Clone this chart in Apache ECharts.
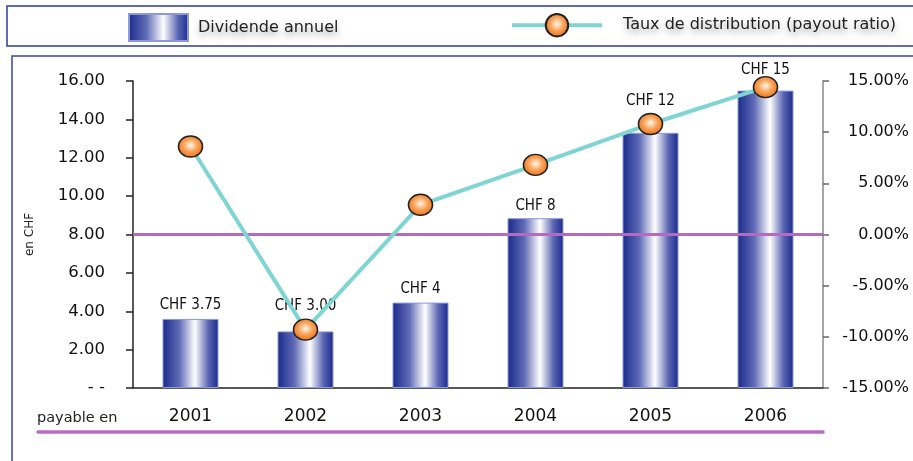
<!DOCTYPE html>
<html>
<head>
<meta charset="utf-8">
<script src="https://cdn.jsdelivr.net/npm/echarts@6/dist/echarts.min.js"></script>
<style>
  html, body {margin: 0; padding: 0; background: #fff;}
  #chart {width: 913px; height: 461px;}
</style>
</head>
<body>
<div id="chart"></div>
<script>
// valeurs
var years = ['2001', '2002', '2003', '2004', '2005', '2006']
var dividende = [3.6, 2.95, 4.45, 8.85, 13.3, 15.5]
var dividendeLabels = ['CHF 3.75', 'CHF 3.00', 'CHF 4', 'CHF 8', 'CHF 12', 'CHF 15']
var payout = [8.6, -9.3, 2.9, 6.8, 10.8, 14.4]

// écart étiquette / barre (les étiquettes évitent les pastilles)
var labelDistance = [6, 18, 6, 5, 24, 13]

var barGradient = new echarts.graphic.LinearGradient(0, 0, 1, 0, [
  {offset: 0, color: '#1a2a8c'},
  {offset: 0.3, color: '#5f6bb5'},
  {offset: 0.58, color: '#ffffff'},
  {offset: 0.82, color: '#5a66b2'},
  {offset: 1, color: '#1a2a8c'}
])
var dotGradient = new echarts.graphic.RadialGradient(0.5, 0.45, 0.6, [
  {offset: 0, color: '#fff8ee'},
  {offset: 0.45, color: '#f9a45a'},
  {offset: 1, color: '#e8650f'}
])
var legendText = {
  fontFamily: 'DejaVu Sans',
  fontSize: 16,
  color: '#222',
  textShadowColor: 'rgba(0,0,0,0.35)',
  textShadowBlur: 6,
  textShadowOffsetY: 4
}

var option = {
  backgroundColor: '#fff',
  animation: false,
  textStyle: {fontFamily: 'DejaVu Sans'},
  grid: {left: 133, right: 90, top: 81, bottom: 73},
  legend: [{
    data: ['Dividende annuel'],
    left: 128,
    top: 13,
    padding: 0,
    itemWidth: 59,
    itemHeight: 27,
    icon: 'rect',
    textStyle: Object.assign({padding: [0, 0, 0, 5]}, legendText)
  }, {
    data: ['Taux de distribution (payout ratio)'],
    left: 510,
    top: 13,
    padding: 0,
    itemWidth: 90,
    itemHeight: 28,
    lineStyle: {width: 4},
    textStyle: Object.assign({padding: [0, 0, 0, 16]}, legendText)
  }],
  graphic: [{
    type: 'rect',
    z: -10,
    shape: {x: 7, y: 6, width: 930, height: 40},
    style: {fill: 'transparent', stroke: '#2c3c9c', lineWidth: 1.5}
  }, {
    type: 'rect',
    z: -10,
    shape: {x: 12, y: 56, width: 930, height: 430},
    style: {fill: 'transparent', stroke: '#3444a4', lineWidth: 1.5}
  }, {
    type: 'line',
    shape: {x1: 38, y1: 432, x2: 823, y2: 432},
    style: {stroke: '#b86cc4', lineWidth: 3.5, lineCap: 'round'}
  }, {
    type: 'text',
    left: 37,
    top: 411,
    style: {text: 'payable en', fontFamily: 'DejaVu Sans', fontSize: 14.5, fill: '#222'}
  }],
  xAxis: {
    type: 'category',
    data: years,
    axisLine: {lineStyle: {color: '#222', width: 1.5}},
    axisTick: {length: 6, lineStyle: {color: '#222', width: 1.5}},
    axisLabel: {margin: 20, fontSize: 17, color: '#111'}
  },
  yAxis: [{
    type: 'value',
    min: 0,
    max: 16,
    interval: 2,
    name: 'en CHF',
    nameLocation: 'middle',
    nameRotate: 90,
    nameGap: 97,
    nameTextStyle: {fontSize: 12, color: '#222'},
    axisLine: {show: true, lineStyle: {color: '#222', width: 1.5}},
    axisTick: {show: true, length: 7, lineStyle: {color: '#222', width: 1.5}},
    splitLine: {show: false},
    axisLabel: {
      margin: 28,
      fontSize: 16.5,
      color: '#111',
      formatter: function (v) { return v === 0 ? '- -' : v.toFixed(2) }
    }
  }, {
    type: 'value',
    min: -15,
    max: 15,
    interval: 5,
    position: 'right',
    axisLine: {show: true, lineStyle: {color: '#888', width: 1.5}},
    axisTick: {show: true, length: 6, lineStyle: {color: '#666', width: 1.5}},
    splitLine: {show: false},
    axisLabel: {
      margin: 86,
      align: 'right',
      fontSize: 16,
      color: '#111',
      formatter: function (v) { return v.toFixed(2) + '%' }
    }
  }],
  series: [{
    name: 'Dividende annuel',
    type: 'bar',
    data: dividende.map(function (v, i) {
      return {value: v, label: {distance: labelDistance[i]}}
    }),
    barWidth: 56,
    itemStyle: {color: barGradient, borderColor: '#8c98d8', borderWidth: 1},
    label: {
      show: true,
      position: 'top',
      fontFamily: "'Liberation Sans Narrow', 'DejaVu Sans Condensed', sans-serif",
      fontSize: 15,
      color: '#111',
      formatter: function (p) { return dividendeLabels[p.dataIndex] }
    },
    markLine: {
      silent: true,
      symbol: 'none',
      label: {show: false},
      lineStyle: {color: '#b46ac0', width: 3, type: 'solid'},
      data: [{yAxis: 8}]
    }
  }, {
    name: 'Taux de distribution (payout ratio)',
    type: 'line',
    yAxisIndex: 1,
    data: payout,
    symbol: 'circle',
    symbolSize: [24, 21],
    lineStyle: {color: '#7fd4d4', width: 4},
    itemStyle: {color: dotGradient, borderColor: '#222', borderWidth: 1.5},
    z: 5
  }]
}

var chart = echarts.init(document.getElementById('chart'))
chart.setOption(option)
</script>
</body>
</html>
